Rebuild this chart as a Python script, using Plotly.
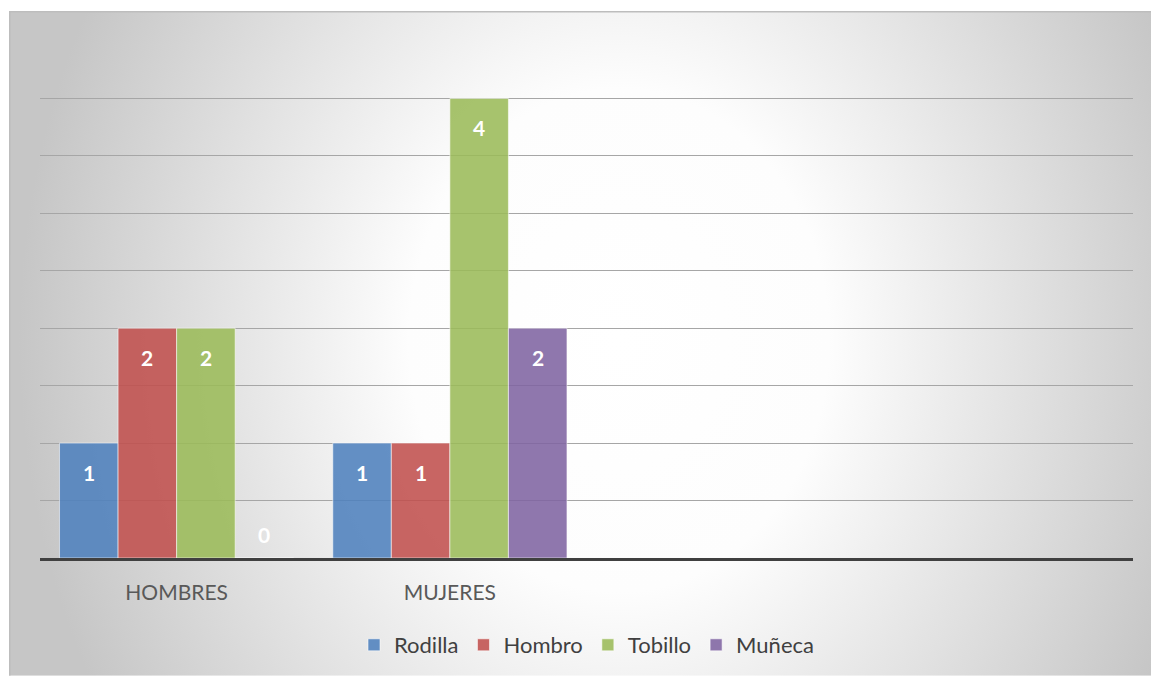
import base64
import plotly.graph_objects as go

categories = ["HOMBRES", "MUJERES"]
axis_categories = ["HOMBRES", "MUJERES", " ", "  "]
series_names = ["Rodilla", "Hombro", "Tobillo", "Muñeca"]
rodilla = [1, 1]
hombro = [2, 1]
tobillo = [2, 4]
muneca = [0, 2]
series_values = [rodilla, hombro, tobillo, muneca]
colors = ["rgba(79,129,189,0.88)", "rgba(192,80,77,0.88)",
          "rgba(155,187,89,0.88)", "rgba(128,100,162,0.88)"]

W, H = 1142, 666
svg = f'''<svg xmlns="http://www.w3.org/2000/svg" width="{W}" height="{H}" viewBox="0 0 {W} {H}" preserveAspectRatio="none">
<defs><radialGradient id="g" gradientUnits="userSpaceOnUse" cx="610" cy="330" r="600" fx="610" fy="330"
 gradientTransform="translate(610,330) scale(1,1.2) translate(-610,-330)">
<stop offset="0" stop-color="#ffffff"/><stop offset="0.35" stop-color="#fdfdfd"/><stop offset="1" stop-color="#c6c6c6"/>
</radialGradient></defs>
<rect x="0" y="0" width="{W}" height="{H}" fill="url(#g)"/>
<path d="M0.75,{H} V0.75 H{W}" stroke="#bdbdbd" stroke-width="1.5" fill="none"/>
</svg>'''
src = "data:image/svg+xml;base64," + base64.b64encode(svg.encode()).decode()

# plot area in pixels: x 40..1133, y 41..559
pl, pr, pt, pb = 40, 1133, 41, 559
pw, ph = pr - pl, pb - pt
def px(x):
    return (x - pl) / pw
def py(y):
    return (pb - y) / ph

bargap = 0.143
n_cat = len(axis_categories)
cat_px = pw / n_cat
bar_px = cat_px * (1 - bargap) / len(series_names)

fig = go.Figure()
annotations = []
for i, (name, vals, col) in enumerate(zip(series_names, series_values, colors)):
    fig.add_trace(go.Bar(
        name=name, x=categories, y=vals,
        marker=dict(color=col, line=dict(color="rgba(255,255,255,0.55)", width=1)),
        hoverinfo="skip",
    ))
    for c, v in zip(categories, vals):
        annotations.append(dict(
            x=c, y=v, xref="x", yref="y", text=f"<b>{v}</b>", showarrow=False,
            xshift=(i - (len(series_names) - 1) / 2) * bar_px,
            yshift=-29 if v > 0 else 24,
            font=dict(family="Lato", size=21, color="white"),
            xanchor="center", yanchor="middle",
        ))

fig.update_layout(
    width=1151, height=677,
    margin=dict(l=pl, r=1151 - pr, t=pt, b=677 - pb, pad=0),
    paper_bgcolor="white",
    plot_bgcolor="rgba(0,0,0,0)",
    barmode="group", bargap=bargap, bargroupgap=0,
    font=dict(family="Lato", color="#404040"),
    showlegend=True,
    legend=dict(orientation="h", x=0.5, xanchor="center", y=py(645), yanchor="middle",
                font=dict(size=22, color="#404040"), bgcolor="rgba(0,0,0,0)",
                itemclick=False, traceorder="normal"),
    annotations=annotations,
    images=[dict(source=src, xref="paper", yref="paper", x=px(9), y=py(11),
                 sizex=px(1151) - px(9), sizey=py(11) - py(677),
                 xanchor="left", yanchor="top", sizing="stretch", layer="below")],
    xaxis=dict(categoryorder="array", categoryarray=axis_categories, range=[-0.5, 3.5],
               showline=True, linecolor="#404040", linewidth=3, ticks="", showgrid=False,
               tickfont=dict(size=21, color="#595959"), ticklabelstandoff=14,
               fixedrange=True),
    yaxis=dict(range=[0, 4.5], dtick=0.5, showticklabels=False, showgrid=True,
               gridcolor="#a6a6a6", gridwidth=1, zeroline=False, showline=False,
               ticks="", fixedrange=True),
)

fig.write_html("out.html", config={"displayModeBar": False},
               post_script="document.body.style.margin='0';document.documentElement.style.overflow='hidden';")
